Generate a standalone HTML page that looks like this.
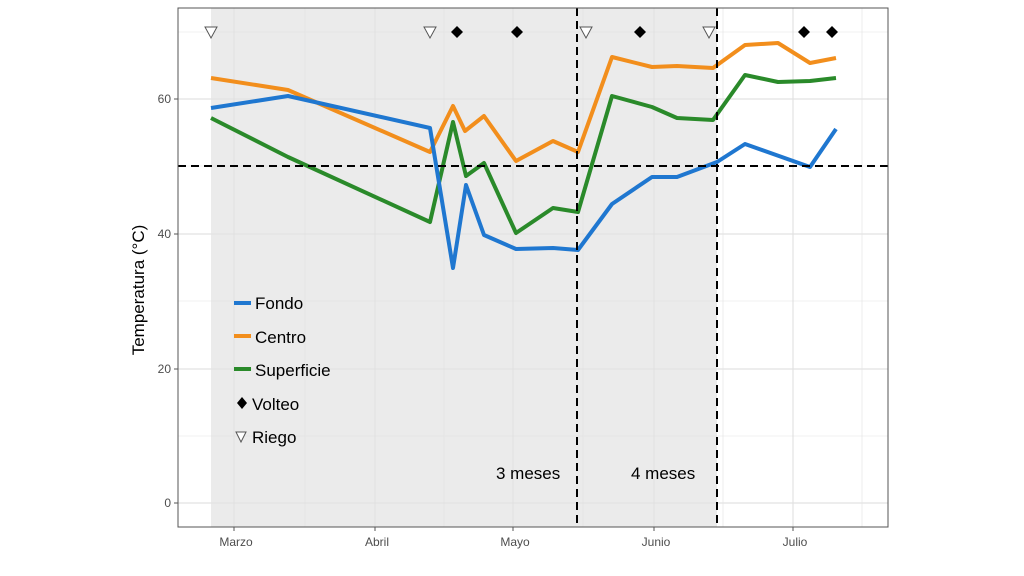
<!DOCTYPE html>
<html><head><style>body{margin:0;background:#fff}svg{display:block;font-family:"Liberation Sans",sans-serif}</style></head><body>
<svg width="1024" height="576" viewBox="0 0 1024 576">
<rect x="211" y="8" width="506" height="519" fill="#ebebeb"/>
<g stroke="#e2e2e2" stroke-width="0.6">
<line x1="178" x2="888" y1="436" y2="436"/><line x1="178" x2="888" y1="301" y2="301"/><line x1="178" x2="888" y1="166" y2="166"/><line x1="178" x2="888" y1="32" y2="32"/>
<line x1="305" x2="305" y1="8" y2="527"/><line x1="444" x2="444" y1="8" y2="527"/><line x1="583" x2="583" y1="8" y2="527"/><line x1="723" x2="723" y1="8" y2="527"/><line x1="862" x2="862" y1="8" y2="527"/>
</g>
<g stroke="#e2e2e2" stroke-width="1.2">
<line x1="178" x2="888" y1="503" y2="503"/><line x1="178" x2="888" y1="369" y2="369"/><line x1="178" x2="888" y1="234" y2="234"/><line x1="178" x2="888" y1="99" y2="99"/>
<line x1="234" x2="234" y1="8" y2="527"/><line x1="375" x2="375" y1="8" y2="527"/><line x1="513" x2="513" y1="8" y2="527"/><line x1="654" x2="654" y1="8" y2="527"/><line x1="793" x2="793" y1="8" y2="527"/>
</g>
<g fill="none" stroke-width="4" stroke-linejoin="round">
<polyline stroke="#f28e1c" points="211,78 288,90 430,152 453,106 465,131 484,116 516,161 553,141 578,152 612,57 652,67 677,66 713,68 745,45 778,43 810,63 836,58"/>
<polyline stroke="#2a8a2a" points="211,118 288,157 430,222 453,122 466,176 484,163 516,233 553,208 578,212 612,96 652,107 677,118 713,120 745,75 778,82 810,81 836,78"/>
<polyline stroke="#1f77d0" points="211,108 288,96 430,128 453,268 466,185 484,235 516,249 553,248 578,250 612,204 652,177 677,177 717,162 745,144 810,167 836,129"/>
</g>
<g stroke="#000" stroke-width="2" stroke-dasharray="8,5">
<line x1="178" x2="888" y1="166" y2="166"/><line x1="577" x2="577" y1="8" y2="527"/><line x1="717" x2="717" y1="8" y2="527"/>
</g>
<g fill="#fff" stroke="#555" stroke-width="1">
<polygon points="205,27 217,27 211,38"/><polygon points="424,27 436,27 430,38"/><polygon points="580,27 592,27 586,38"/><polygon points="703,27 715,27 709,38"/>
<polygon points="236,432 246,432 241,442"/>
</g>
<g fill="#000">
<polygon points="457,26 463,32 457,38 451,32"/><polygon points="517,26 523,32 517,38 511,32"/><polygon points="640,26 646,32 640,38 634,32"/><polygon points="804,26 810,32 804,38 798,32"/><polygon points="832,26 838,32 832,38 826,32"/>
<polygon points="242,397 247,403 242,409 237,403"/>
</g>
<rect x="178" y="8" width="710" height="519" fill="none" stroke="#555" stroke-width="1"/>
<g stroke="#555"><line x1="174" x2="178" y1="503" y2="503"/><line x1="174" x2="178" y1="369" y2="369"/><line x1="174" x2="178" y1="234" y2="234"/><line x1="174" x2="178" y1="99" y2="99"/>
<line x1="234" x2="234" y1="527" y2="531"/><line x1="375" x2="375" y1="527" y2="531"/><line x1="513" x2="513" y1="527" y2="531"/><line x1="654" x2="654" y1="527" y2="531"/><line x1="793" x2="793" y1="527" y2="531"/></g>
<g font-size="12" fill="#4d4d4d" text-anchor="end"><text x="171" y="507">0</text><text x="171" y="373">20</text><text x="171" y="238">40</text><text x="171" y="103">60</text></g>
<g font-size="12" fill="#4d4d4d" text-anchor="middle"><text x="236" y="546">Marzo</text><text x="377" y="546">Abril</text><text x="515" y="546">Mayo</text><text x="656" y="546">Junio</text><text x="795" y="546">Julio</text></g>
<text transform="translate(144,290) rotate(-90)" font-size="17" text-anchor="middle" fill="#000">Temperatura (°C)</text>
<g stroke-width="4"><line x1="234" x2="251" y1="303" y2="303" stroke="#1f77d0"/><line x1="234" x2="251" y1="336" y2="336" stroke="#f28e1c"/><line x1="234" x2="251" y1="369" y2="369" stroke="#2a8a2a"/></g>
<g font-size="17" fill="#000"><text x="255" y="309">Fondo</text><text x="255" y="343">Centro</text><text x="255" y="376">Superficie</text><text x="252" y="410">Volteo</text><text x="252" y="443">Riego</text>
<text x="496" y="479">3 meses</text><text x="631" y="479">4 meses</text></g>
</svg></body></html>
